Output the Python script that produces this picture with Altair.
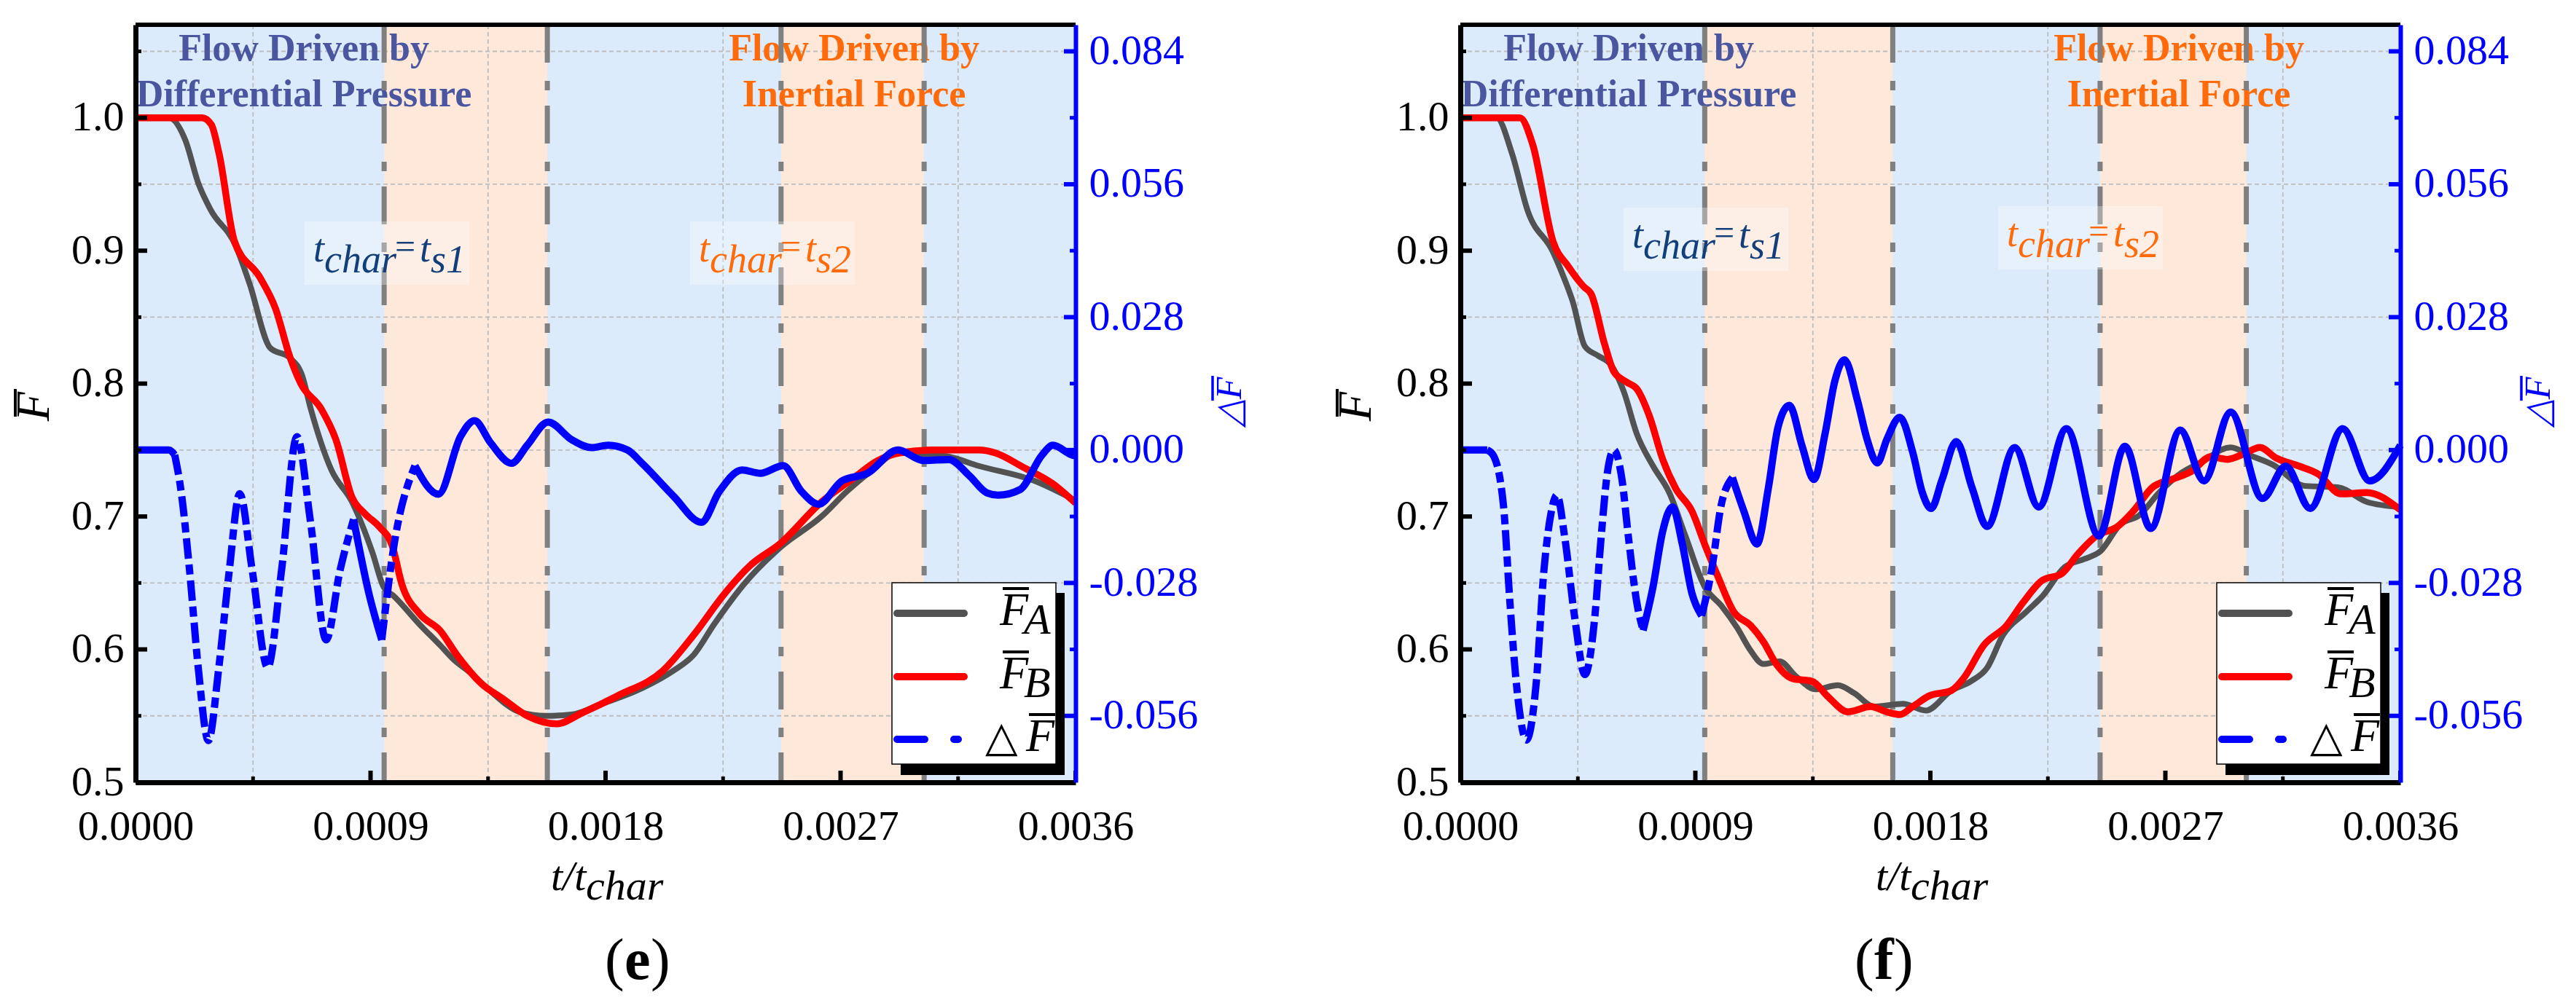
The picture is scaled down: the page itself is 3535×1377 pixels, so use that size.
import altair as alt
import pandas as pd

# ---------------- data ----------------
x_major = [0.0, 0.0009, 0.0018, 0.0027, 0.0036]
x_minor = [0.00045, 0.00135, 0.00225, 0.00315]
yF_major = [0.5, 0.6, 0.7, 0.8, 0.9, 1.0]
yF_minor = [0.55, 0.65, 0.75, 0.85, 0.95, 1.05]
yD_major = [-0.056, -0.028, 0.0, 0.028, 0.056, 0.084]
yD_minor = [-0.042, -0.014, 0.014, 0.042, 0.070]
F_domain = [0.5, 1.07]
D_domain = [-0.07, 0.0896]
T_domain = [0.0, 0.0036]

# panel (e)
e_tA = [0.0, 0.000128, 0.000191, 0.00024, 0.000287, 0.000383, 0.000437, 0.000515, 0.000593,
        0.000638, 0.000671, 0.00075, 0.000829, 0.000907, 0.00095, 0.00099, 0.001087, 0.001167,
        0.00122, 0.001279, 0.001357, 0.00147, 0.001571, 0.001669, 0.001786, 0.001942, 0.00206,
        0.002138, 0.002216, 0.002334, 0.002471, 0.002627, 0.002725, 0.002822, 0.00292, 0.003017,
        0.003115, 0.00323, 0.00344, 0.0036]
e_FA = [1.0, 1.0, 0.983, 0.951, 0.931, 0.904, 0.875, 0.827, 0.819,
        0.806, 0.781, 0.735, 0.711, 0.673, 0.647, 0.640, 0.619, 0.603,
        0.592, 0.583, 0.569, 0.553, 0.550, 0.551, 0.559, 0.571, 0.584,
        0.596, 0.619, 0.650, 0.677, 0.700, 0.719, 0.735, 0.748, 0.747,
        0.745, 0.738, 0.727, 0.712]
e_tB = [0.0, 0.000255, 0.00029, 0.00032, 0.000379, 0.000476, 0.000535, 0.000593, 0.000633,
        0.000711, 0.000767, 0.00083, 0.000879, 0.000935, 0.000983, 0.00102, 0.001087, 0.001167,
        0.00123, 0.001326, 0.001406, 0.0015, 0.001614, 0.001708, 0.001845, 0.00202, 0.002138,
        0.002256, 0.002353, 0.002471, 0.002627, 0.002744, 0.002842, 0.00293, 0.00305, 0.00323,
        0.00329, 0.0034, 0.00351, 0.0036]
e_FB = [1.0, 1.0, 0.995, 0.973, 0.907, 0.880, 0.857, 0.819, 0.800,
        0.781, 0.758, 0.714, 0.702, 0.692, 0.678, 0.649, 0.627, 0.614,
        0.596, 0.574, 0.563, 0.550, 0.544, 0.552, 0.565, 0.584, 0.611,
        0.642, 0.663, 0.680, 0.711, 0.728, 0.742, 0.748, 0.750, 0.750,
        0.748, 0.737, 0.725, 0.710]
e_tD = [0.0, 0.000127, 0.00015, 0.000175, 0.000207, 0.00024, 0.000279, 0.000319, 0.000359,
        0.000399, 0.000447, 0.000506, 0.000559, 0.000618, 0.00067, 0.00073, 0.000783, 0.000835,
        0.000895, 0.000943, 0.00099, 0.00107, 0.00116, 0.001245, 0.001298, 0.00136, 0.00144,
        0.0015, 0.00158, 0.00167, 0.001747, 0.00181, 0.001884, 0.00194, 0.00206, 0.002167,
        0.002236, 0.002323, 0.002393, 0.00248, 0.00255, 0.002616, 0.002705, 0.002803, 0.00292,
        0.003017, 0.003115, 0.003193, 0.00326, 0.003304, 0.003388, 0.003471, 0.003513, 0.00359,
        0.0036]
e_dF = [0.0, 0.0, -0.001, -0.0089, -0.0254, -0.0458, -0.0612, -0.0458, -0.0254,
        -0.0092, -0.0254, -0.0458, -0.0254, 0.0028, -0.0151, -0.040, -0.0254, -0.0146,
        -0.0305, -0.040, -0.020, -0.0033, -0.0093, 0.0029, 0.0062, 0.0015, -0.0028,
        0.001, 0.0059, 0.0022, 0.0005, 0.001, 0.0, -0.0028, -0.0097, -0.0152,
        -0.0087, -0.0042, -0.0049, -0.0033, -0.0087, -0.0114, -0.0065, -0.0049, 0.0,
        -0.0022, -0.002, -0.0054, -0.0090, -0.0095, -0.0083, -0.0011, 0.001, -0.0011,
        -0.0012]
e_regions_start = [0.000952, 0.002472]
e_regions_end = [0.001577, 0.003020]

# panel (f)
f_tA = [0.0, 0.000139, 0.000198, 0.000258, 0.000355, 0.000396, 0.00043, 0.000477, 0.000527,
        0.000577, 0.000626, 0.000676, 0.000738, 0.0008, 0.000861, 0.000936, 0.000999, 0.001061,
        0.001112, 0.00116, 0.001223, 0.001284, 0.00136, 0.001446, 0.001509, 0.001584, 0.001695,
        0.001783, 0.00188, 0.001955, 0.002017, 0.002079, 0.002166, 0.002229, 0.002315, 0.00239,
        0.002452, 0.002527, 0.002601, 0.002676, 0.002763, 0.002838, 0.00295, 0.003024, 0.003111,
        0.003235, 0.00336, 0.003471, 0.0036]
f_FA = [1.0, 1.0, 0.973, 0.930, 0.899, 0.880, 0.862, 0.828, 0.821,
        0.814, 0.794, 0.762, 0.738, 0.718, 0.686, 0.647, 0.633, 0.616,
        0.599, 0.589, 0.591, 0.580, 0.570, 0.573, 0.567, 0.557, 0.559,
        0.554, 0.569, 0.576, 0.586, 0.611, 0.628, 0.640, 0.662, 0.668,
        0.674, 0.694, 0.701, 0.718, 0.733, 0.741, 0.752, 0.746, 0.739,
        0.723, 0.722, 0.711, 0.707]
f_tB = [0.0, 0.000228, 0.000277, 0.000355, 0.000414, 0.000472, 0.000502, 0.000552, 0.000588,
        0.000638, 0.000676, 0.000725, 0.000775, 0.000825, 0.000887, 0.000936, 0.000986, 0.001048,
        0.001112, 0.00116, 0.00121, 0.001273, 0.001347, 0.00141, 0.001484, 0.001571, 0.001633,
        0.001683, 0.001733, 0.001795, 0.00188, 0.00193, 0.002004, 0.002092, 0.002154, 0.002229,
        0.002303, 0.002366, 0.00244, 0.002514, 0.002577, 0.002651, 0.002726, 0.0028, 0.002875,
        0.002937, 0.003, 0.003062, 0.003124, 0.003211, 0.003285, 0.003372, 0.003471, 0.0036]
f_FB = [1.0, 1.0, 0.980, 0.907, 0.888, 0.873, 0.867, 0.830, 0.809,
        0.801, 0.796, 0.775, 0.743, 0.721, 0.704, 0.679, 0.655, 0.628,
        0.618, 0.606, 0.589, 0.578, 0.576, 0.564, 0.553, 0.557, 0.553,
        0.551, 0.557, 0.565, 0.569, 0.579, 0.603, 0.618, 0.635, 0.652,
        0.657, 0.672, 0.686, 0.692, 0.704, 0.722, 0.728, 0.734, 0.745,
        0.743, 0.747, 0.752, 0.744, 0.738, 0.732, 0.717, 0.718, 0.705]
f_tD = [0.0, 0.000103, 0.000125, 0.000165, 0.00019, 0.000215, 0.000253, 0.00029, 0.00032,
        0.000346, 0.00037, 0.0004, 0.000439, 0.000477, 0.000514, 0.000539, 0.000563, 0.000588,
        0.000619, 0.000644, 0.000676, 0.0007, 0.000738, 0.000775, 0.000812, 0.00085, 0.000887,
        0.000924, 0.000962, 0.000999, 0.001042, 0.001086, 0.001136, 0.001179, 0.001217, 0.00126,
        0.001309, 0.001354, 0.001397, 0.001434, 0.001471, 0.001521, 0.001558, 0.001597, 0.001633,
        0.001683, 0.001733, 0.001769, 0.001803, 0.001845, 0.001899, 0.00196, 0.002017, 0.002123,
        0.002215, 0.002321, 0.002446, 0.002545, 0.002644, 0.002757, 0.002848, 0.00295, 0.003072,
        0.003161, 0.003255, 0.003379, 0.003482, 0.0036]
f_dF = [0.0, 0.0, -0.001, -0.0116, -0.0322, -0.0494, -0.0611, -0.0494, -0.0254,
        -0.0137, -0.0095, -0.0185, -0.0357, -0.0473, -0.0357, -0.0185, -0.0048, 0.0,
        -0.0062, -0.0185, -0.0322, -0.038, -0.0288, -0.0171, -0.012, -0.0198, -0.0302,
        -0.0349, -0.0254, -0.0116, -0.0058, -0.0129, -0.0198, -0.0082, 0.0049, 0.0094,
        0.0008, -0.0062, 0.0035, 0.0145, 0.019, 0.0104, 0.0022, -0.0027, 0.0022,
        0.0069, -0.0006, -0.0089, -0.0123, -0.0062, 0.0018, -0.008, -0.0161, 0.0005,
        -0.012, 0.0045, -0.0181, 0.0008, -0.0165, 0.0042, -0.0065, 0.008, -0.0102,
        -0.0034, -0.0123, 0.0045, -0.0065, 0.001]
f_regions_start = [0.000936, 0.00245]
f_regions_end = [0.001656, 0.00301]

# ---------------- style ----------------
W, H = 1290, 1040
SERIF = "Liberation Serif"
BG = "#DCEBFB"
PEACH = "#FDE8DA"
GRAY_LINE = "#525252"
RED = "#FF0000"
BLUE = "#0000FF"
SLATE = "#4A56A0"
NAVY = "#123F7A"
ORANGE = "#FF6A0A"
LABEL_SIZE = 58

one = pd.DataFrame({"k": [0]})
xs = alt.Scale(domain=T_domain, nice=False, zero=False)
yFs = alt.Scale(domain=F_domain, nice=False, zero=False)
yDs = alt.Scale(domain=D_domain, nice=False, zero=False)

x_axis = alt.Axis(values=x_major, format=".4f", labelFont=SERIF, labelFontSize=LABEL_SIZE,
                  labelColor="black", labelPadding=32, labelFlush=False, labelOverlap=False,
                  ticks=False, grid=False, domainColor="black", domainWidth=7,
                  title=None, zindex=1, orient="bottom")


def text(s, x, y, size, color="black", style="normal", weight="normal",
         align="left", baseline="alphabetic", angle=0):
    return alt.Chart(one).mark_text(
        text=s, fontSize=size, color=color, fontStyle=style, fontWeight=weight,
        align=align, baseline=baseline, angle=angle, font=SERIF
    ).encode(x=alt.value(x), y=alt.value(y))


def box(x0, x1, y0, y1, **kw):
    return alt.Chart(one).mark_rect(**kw).encode(
        x=alt.value(x0), x2=alt.value(x1), y=alt.value(y0), y2=alt.value(y1))


def hrule(x0, x1, y, **kw):
    return alt.Chart(one).mark_rule(**kw).encode(
        x=alt.value(x0), x2=alt.value(x1), y=alt.value(y))


def vrule(x, y0, y1, **kw):
    return alt.Chart(one).mark_rule(**kw).encode(
        x=alt.value(x), y=alt.value(y0), y2=alt.value(y1))


def split_runs(ts, vs, windows):
    flags = [any(a <= t <= b for a, b in windows) for t in ts]
    n = len(ts)
    rows, i, k = [], 0, 0
    while i < n:
        j = i
        while j + 1 < n and flags[j + 1] == flags[i]:
            j += 1
        end = min(j + 1, n - 1)
        for idx in range(i, end + 1):
            rows.append({"t": ts[idx], "v": vs[idx], "run": k,
                         "style": "dash" if flags[i] else "solid"})
        k += 1
        i = j + 1
    return pd.DataFrame(rows)


def tchar(x0, y0, sub, color):
    return [
        box(x0, x0 + 226, y0, y0 + 87, fill="white", opacity=0.3),
        text("t", x0 + 12, y0 + 55, 54, color, "italic"),
        text("char", x0 + 27, y0 + 70, 54, color, "italic"),
        text("=", x0 + 124, y0 + 51, 50, color),
        text("t", x0 + 158, y0 + 55, 54, color, "italic"),
        text(sub, x0 + 173, y0 + 70, 54, color, "italic"),
    ]


def X(field="t"):
    return alt.X(f"{field}:Q", scale=xs, axis=x_axis)


def panel(tA, FA, tB, FB, tD, dF, rs, re_, windows, box1, box2, letter, let_x,
          ltitle_x, rtitle_x):
    dfA = pd.DataFrame({"t": tA, "v": FA})
    dfB = pd.DataFrame({"t": tB, "v": FB})
    dfD = split_runs(tD, dF, windows)
    regions = pd.DataFrame({"a": rs, "b": re_})
    bounds = pd.DataFrame({"t": rs + re_})

    yF_axis = alt.Axis(values=yF_major, format=".1f", labelFont=SERIF, labelFontSize=LABEL_SIZE,
                       labelColor="black", labelPadding=16, labelFlush=False,
                       ticks=False, grid=False, domainColor="black", domainWidth=7,
                       title=None, zindex=1, orient="left")
    yD_axis = alt.Axis(values=yD_major, labelFont=SERIF, labelFontSize=LABEL_SIZE,
                       labelExpr="datum.value < 0 ? '-' + format(-datum.value, '.3f') : format(datum.value, '.3f')",
                       labelColor=BLUE, labelPadding=18, labelFlush=False,
                       ticks=False, grid=False, domainColor=BLUE, domainWidth=6,
                       title=None, zindex=1, orient="right")

    layers = []
    # shaded regions
    layers.append(alt.Chart(regions).mark_rect(color=PEACH).encode(
        x=X("a"), x2="b:Q", y=alt.value(0), y2=alt.value(H)))
    # grid
    layers.append(alt.Chart(pd.DataFrame({"v": yD_major})).mark_rule(
        color="#BDBDBD", strokeWidth=1.8, strokeDash=[6, 4]).encode(
        y=alt.Y("v:Q", scale=yDs, axis=None), x=alt.value(0), x2=alt.value(W)))
    layers.append(alt.Chart(pd.DataFrame({"t": x_minor})).mark_rule(
        color="#BDBDBD", strokeWidth=1.8, strokeDash=[6, 4]).encode(
        x=X(), y=alt.value(0), y2=alt.value(H)))
    # header texts
    layers += [
        text("Flow Driven by", 231, 49, 52, SLATE, weight="bold", align="center"),
        text("Differential Pressure", 231, 112, 52, SLATE, weight="bold", align="center"),
        text("Flow Driven by", 986, 49, 52, ORANGE, weight="bold", align="center"),
        text("Inertial Force", 986, 112, 52, ORANGE, weight="bold", align="center"),
    ]
    # vertical dash-dot boundaries
    layers.append(alt.Chart(bounds).mark_rule(
        color="#808080", strokeWidth=7, strokeDash=[52, 25, 13, 21]).encode(
        x=X(), y=alt.value(0), y2=alt.value(H)))
    # t_char annotations
    layers += tchar(box1[0], box1[1], "s1", NAVY)
    layers += tchar(box2[0], box2[1], "s2", ORANGE)
    # curves
    layers.append(alt.Chart(dfA).mark_line(color=GRAY_LINE, strokeWidth=8,
                                           interpolate="monotone").encode(
        x=X(), y=alt.Y("v:Q", scale=yFs, axis=yF_axis)))
    layers.append(alt.Chart(dfB).mark_line(color=RED, strokeWidth=9.5,
                                           interpolate="monotone").encode(
        x=X(), y=alt.Y("v:Q", scale=yFs, axis=None)))
    layers.append(alt.Chart(dfD[dfD["style"] == "solid"]).mark_line(
        color=BLUE, strokeWidth=10, interpolate="monotone").encode(
        x=X(), y=alt.Y("v:Q", scale=yDs, axis=yD_axis), detail="run:N"))
    layers.append(alt.Chart(dfD[dfD["style"] == "dash"]).mark_line(
        color=BLUE, strokeWidth=10, interpolate="monotone",
        strokeDash=[28, 8, 14, 8]).encode(
        x=X(), y=alt.Y("v:Q", scale=yDs, axis=None), detail="run:N"))
    # top frame
    layers.append(hrule(0, W, 0, color="black", strokeWidth=6))
    # inward ticks
    layers.append(alt.Chart(pd.DataFrame({"v": yF_major})).mark_rule(
        color="black", strokeWidth=6).encode(
        y=alt.Y("v:Q", scale=yFs, axis=None), x=alt.value(0), x2=alt.value(16)))
    layers.append(alt.Chart(pd.DataFrame({"v": yF_minor})).mark_rule(
        color="black", strokeWidth=5).encode(
        y=alt.Y("v:Q", scale=yFs, axis=None), x=alt.value(0), x2=alt.value(8)))
    layers.append(alt.Chart(pd.DataFrame({"v": yD_major})).mark_rule(
        color=BLUE, strokeWidth=6).encode(
        y=alt.Y("v:Q", scale=yDs, axis=None), x=alt.value(W - 16), x2=alt.value(W)))
    layers.append(alt.Chart(pd.DataFrame({"v": yD_minor})).mark_rule(
        color=BLUE, strokeWidth=5).encode(
        y=alt.Y("v:Q", scale=yDs, axis=None), x=alt.value(W - 8), x2=alt.value(W)))
    layers.append(alt.Chart(pd.DataFrame({"t": x_major})).mark_rule(
        color="black", strokeWidth=6).encode(
        x=X(), y=alt.value(H - 16), y2=alt.value(H)))
    layers.append(alt.Chart(pd.DataFrame({"t": x_minor})).mark_rule(
        color="black", strokeWidth=5).encode(
        x=X(), y=alt.value(H - 8), y2=alt.value(H)))
    # legend
    layers += [
        box(1050, 1275, 780, 1030, fill="black"),
        box(1038, 1263, 766, 1015, fill="white", stroke="black", strokeWidth=1.5),
        hrule(1045, 1137, 808, color=GRAY_LINE, strokeWidth=10, strokeCap="round"),
        hrule(1045, 1137, 895, color=RED, strokeWidth=10, strokeCap="round"),
        hrule(1045, 1137, 981, color=BLUE, strokeWidth=10, strokeCap="round",
              strokeDash=[38, 40, 6, 40]),
        text("F", 1186, 824, 64, style="italic"),
        hrule(1190, 1226, 774, color="black", strokeWidth=4),
        text("A", 1219, 836, 60, style="italic"),
        text("F", 1186, 911, 64, style="italic"),
        hrule(1190, 1226, 861, color="black", strokeWidth=4),
        text("B", 1219, 923, 60, style="italic"),
        text("\u25B3", 1166, 997, 58),
        text("F", 1222, 997, 64, style="italic"),
        hrule(1226, 1262, 947, color="black", strokeWidth=4),
    ]
    # axis titles and panel letter
    layers += [
        text("F", ltitle_x, 524, 66, style="italic", align="center",
             baseline="middle", angle=270),
        vrule(ltitle_x - 26, 500, 538, color="black", strokeWidth=4),
        text("\u25B3F", rtitle_x, 518, 50, color=BLUE, style="italic",
             align="center", baseline="middle", angle=270),
        vrule(rtitle_x - 24, 482, 516, color=BLUE, strokeWidth=3.5),
        text("t/t", 570, 1188, 58, style="italic"),
        text("char", 618, 1201, 58, style="italic"),
        text("(", let_x, 1310, 80),
        text(letter, let_x + 27, 1310, 80, weight="bold"),
        text(")", let_x + 27 + (36 if letter == "e" else 27), 1310, 80),
    ]
    return alt.layer(*layers).resolve_scale(y="independent").properties(width=W, height=H)


pe = panel(e_tA, e_FA, e_tB, e_FB, e_tD, e_dF, e_regions_start, e_regions_end,
           [(0.00013, 0.00079), (0.00094, 0.00106)], (232, 270), (761, 270), "e", 644,
           -139, 1502)
pf = panel(f_tA, f_FA, f_tB, f_FB, f_tD, f_dF, f_regions_start, f_regions_end,
           [(0.000103, 0.00068), (0.00092, 0.00100)], (224, 251), (738, 249), "f", 541,
           -143, 1480)

chart = alt.hconcat(pe, pf, spacing=528, bounds="flush").properties(
    padding={"left": 5, "top": 22, "right": 5, "bottom": 5}
).configure_view(fill=BG, stroke="transparent")

chart.save("out.html", embed_options={"renderer": "svg", "actions": False})
